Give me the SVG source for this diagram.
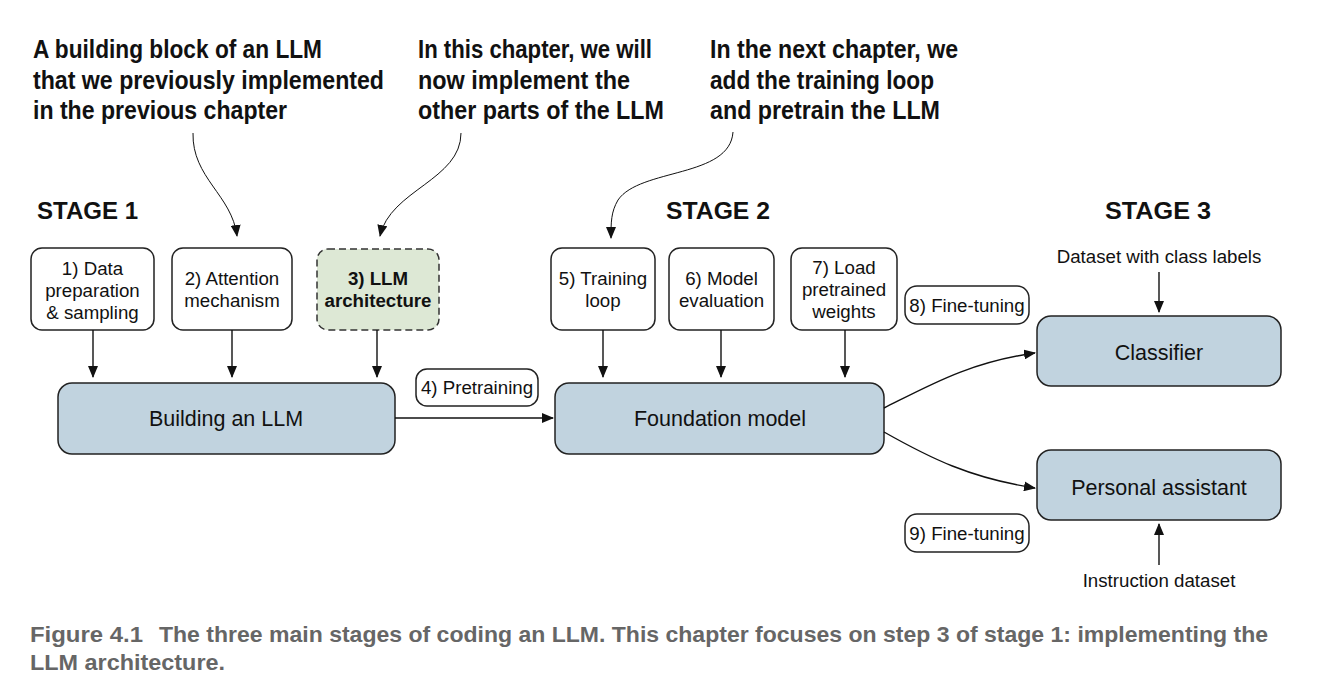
<svg xmlns="http://www.w3.org/2000/svg" width="1320" height="698" viewBox="0 0 1320 698">
<defs>
<marker id="ah" markerWidth="12" markerHeight="10" refX="11" refY="5" orient="auto" markerUnits="userSpaceOnUse">
<path d="M0,0 L12,5 L0,10 Z" fill="#111"/>
</marker>
<style>
.box{fill:#fff;stroke:#222;stroke-width:1.5}
.blue{fill:#c1d3df;stroke:#222;stroke-width:1.5}
.green{fill:#dde8d5;stroke:#333;stroke-width:1.5;stroke-dasharray:7 4}
.t{font-family:"Liberation Sans",Arial,sans-serif;font-size:18.7px;fill:#111;text-anchor:middle}
.tb{font-family:"Liberation Sans",Arial,sans-serif;font-size:18.7px;font-weight:bold;fill:#111;text-anchor:middle}
.big{font-family:"Liberation Sans",Arial,sans-serif;font-size:21.5px;fill:#111;text-anchor:middle}
.stage{font-family:"Liberation Sans",Arial,sans-serif;font-size:24px;font-weight:bold;fill:#111}
.ann{font-family:"Liberation Sans",Arial,sans-serif;font-size:25.5px;font-weight:bold;fill:#111}
.cap{font-family:"Liberation Sans",Arial,sans-serif;font-size:22px;font-weight:bold;fill:#666}
.ln{fill:none;stroke:#111;stroke-width:1.4;marker-end:url(#ah)}
.thin{fill:none;stroke:#111;stroke-width:1;marker-end:url(#ah)}
</style>
</defs>

<g id="annotations">
<text class="ann" x="33" y="58" textLength="289" lengthAdjust="spacingAndGlyphs">A building block of an LLM</text>
<text class="ann" x="33" y="89" textLength="351" lengthAdjust="spacingAndGlyphs">that we previously implemented</text>
<text class="ann" x="33" y="119" textLength="254" lengthAdjust="spacingAndGlyphs">in the previous chapter</text>
<text class="ann" x="418" y="58" textLength="234" lengthAdjust="spacingAndGlyphs">In this chapter, we will</text>
<text class="ann" x="418" y="89" textLength="212" lengthAdjust="spacingAndGlyphs">now implement the</text>
<text class="ann" x="418" y="119" textLength="246" lengthAdjust="spacingAndGlyphs">other parts of the LLM</text>
<text class="ann" x="710" y="58" textLength="248" lengthAdjust="spacingAndGlyphs">In the next chapter, we</text>
<text class="ann" x="710" y="89" textLength="224" lengthAdjust="spacingAndGlyphs">add the training loop</text>
<text class="ann" x="710" y="119" textLength="230" lengthAdjust="spacingAndGlyphs">and pretrain the LLM</text>
</g>

<g id="stages">
<text class="stage" x="37" y="219" textLength="101" lengthAdjust="spacingAndGlyphs">STAGE 1</text>
<text class="stage" x="666" y="219" textLength="104" lengthAdjust="spacingAndGlyphs">STAGE 2</text>
<text class="stage" x="1105" y="219" textLength="106" lengthAdjust="spacingAndGlyphs">STAGE 3</text>
</g>

<g id="n1"><rect class="box" x="31" y="248" width="123" height="82" rx="11"/>
<text class="t" x="92.5" y="275">1) Data</text><text class="t" x="92.5" y="297">preparation</text><text class="t" x="92.5" y="319">&amp; sampling</text></g>
<g id="n2"><rect class="box" x="172" y="248" width="120" height="82" rx="11"/>
<text class="t" x="232" y="285">2) Attention</text><text class="t" x="232" y="307">mechanism</text></g>
<g id="n3"><rect class="green" x="317" y="249" width="122" height="81" rx="11"/>
<text class="tb" x="378" y="285">3) LLM</text><text class="tb" x="378" y="307">architecture</text></g>
<g id="n4"><rect class="blue" x="58" y="383" width="337" height="71" rx="14"/>
<text class="big" x="226" y="426">Building an LLM</text></g>
<g id="l4"><rect class="box" x="416" y="369" width="122" height="37" rx="11"/>
<text class="t" x="477" y="394">4) Pretraining</text></g>
<g id="n5"><rect class="box" x="551" y="248" width="104" height="82" rx="11"/>
<text class="t" x="603" y="285">5) Training</text><text class="t" x="603" y="307">loop</text></g>
<g id="n6"><rect class="box" x="669" y="248" width="105" height="82" rx="11"/>
<text class="t" x="721.5" y="285">6) Model</text><text class="t" x="721.5" y="307">evaluation</text></g>
<g id="n7"><rect class="box" x="791" y="248" width="106" height="82" rx="11"/>
<text class="t" x="844" y="274">7) Load</text><text class="t" x="844" y="296">pretrained</text><text class="t" x="844" y="318">weights</text></g>
<g id="nf"><rect class="blue" x="555" y="383" width="329" height="71" rx="14"/>
<text class="big" x="720" y="426">Foundation model</text></g>
<g id="l8"><rect class="box" x="905" y="286" width="124" height="38" rx="12"/>
<text class="t" x="967" y="312">8) Fine-tuning</text></g>
<g id="l9"><rect class="box" x="905" y="514" width="124" height="38" rx="12"/>
<text class="t" x="967" y="540">9) Fine-tuning</text></g>
<g id="nc"><rect class="blue" x="1037" y="316" width="244" height="70" rx="14"/>
<text class="big" x="1159" y="360">Classifier</text></g>
<g id="np"><rect class="blue" x="1037" y="450" width="244" height="70" rx="14"/>
<text class="big" x="1159" y="495">Personal assistant</text></g>
<g id="d1"><text class="t" x="1159" y="263">Dataset with class labels</text></g>
<g id="d2"><text class="t" x="1159" y="587">Instruction dataset</text></g>

<g id="connectors">
<path class="ln" d="M93,330 V377"/>
<path class="ln" d="M232,330 V377"/>
<path class="ln" d="M377,330 V377"/>
<path class="ln" d="M603,330 V377"/>
<path class="ln" d="M721,330 V377"/>
<path class="ln" d="M845,330 V377"/>
<path class="ln" d="M395,418 H553"/>
<path class="ln" d="M884,408 C930,385 970,362 1035,353"/>
<path class="ln" d="M884,432 C930,458 970,478 1035,488"/>
<path class="ln" d="M1159,272 V312"/>
<path class="ln" d="M1159,565 V524"/>
<path class="thin" d="M193,133 C192,178 232,195 237,236"/>
<path class="thin" d="M461,133 C461,180 390,190 380,236"/>
<path class="thin" d="M733,132 C730,178 640,168 618,200 C611,212 611,222 611,238"/>
</g>

<g id="caption">
<text class="cap" x="30" y="642" textLength="113" lengthAdjust="spacingAndGlyphs">Figure 4.1</text>
<text class="cap" x="159" y="642" textLength="1109" lengthAdjust="spacingAndGlyphs">The three main stages of coding an LLM. This chapter focuses on step 3 of stage 1: implementing the</text>
<text class="cap" x="30" y="670" textLength="195" lengthAdjust="spacingAndGlyphs">LLM architecture.</text>
</g>
</svg>
